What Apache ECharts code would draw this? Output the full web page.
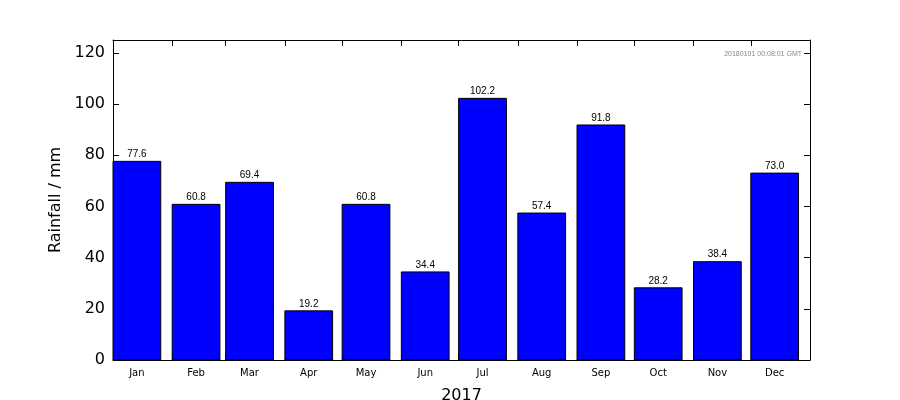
<!DOCTYPE html>
<html><head><meta charset="utf-8">
<script src="https://cdn.jsdelivr.net/npm/echarts@6/dist/echarts.min.js"></script>
<style>body{margin:0}#c{width:900px;height:400px}</style></head>
<body><div id="c"></div>
<script>
var months = ['Jan','Feb','Mar','Apr','May','Jun','Jul','Aug','Sep','Oct','Nov','Dec'];
var rainfall = [77.6, 60.8, 69.4, 19.2, 60.8, 34.4, 102.2, 57.4, 91.8, 28.2, 38.4, 73.0];
var monthStart = [0, 31, 59, 90, 120, 151, 181, 212, 243, 273, 304, 334]; // day of year
var barDays = 25;

var chart = echarts.init(document.getElementById('c'));
var data = rainfall.map(function (v, i) { return [monthStart[i], v, i]; });
var mids = monthStart.map(function (d) { return d + barDays / 2; });
var tickVals = monthStart.slice(1);

function xAx(pos) {
  return {
    type: 'value', min: 0, max: 365, position: pos,
    splitLine: {show: false},
    axisLine: {show: true, onZero: false, lineStyle: {color: '#000'}},
    axisTick: {inside: true, length: 6, customValues: tickVals, lineStyle: {color: '#000'}},
    axisLabel: pos === 'bottom' ? {
      customValues: mids, fontSize: 10, color: '#000', margin: 8,
      formatter: function (v) { return months[mids.indexOf(v)]; }
    } : {show: false},
    name: pos === 'bottom' ? '2017' : '', nameLocation: 'middle', nameGap: 28,
    nameTextStyle: {fontSize: 16, color: '#000'}
  };
}
function yAx(pos) {
  return {
    type: 'value', min: 0, max: 125, interval: 20, position: pos,
    splitLine: {show: false},
    axisLine: {show: true, onZero: false, lineStyle: {color: '#000'}},
    axisTick: {inside: true, length: 6, lineStyle: {color: '#000'}},
    axisLabel: pos === 'left' ? {fontSize: 16, color: '#000', showMaxLabel: false, margin: 8} : {show: false},
    name: pos === 'left' ? 'Rainfall / mm' : '', nameLocation: 'middle', nameGap: 40,
    nameTextStyle: {fontSize: 16, color: '#000'}
  };
}

chart.setOption({
  animation: false,
  textStyle: {fontFamily: 'DejaVu Sans'},
  grid: {left: 113, right: 90, top: 40, bottom: 40, containLabel: false, outerBoundsMode: 'none'},
  xAxis: [xAx('bottom'), xAx('top')],
  yAxis: [yAx('left'), yAx('right')],
  graphic: [{type: 'text', right: 98, top: 51,
    style: {text: '20180101 00:08:01 GMT', fontSize: 7, fill: '#888'}}],
  series: [{
    type: 'custom', xAxisIndex: 0, yAxisIndex: 0, data: data,
    renderItem: function (params, api) {
      var x = api.value(0), v = api.value(1);
      var p0 = api.coord([x, 0]), p1 = api.coord([x + barDays, v]);
      return {type: 'group', children: [
        {type: 'rect', shape: {x: p0[0], y: p1[1], width: p1[0] - p0[0], height: p0[1] - p1[1]},
          style: {fill: '#0000ff', stroke: '#000', lineWidth: 1}},
        {type: 'text', style: {text: v.toFixed(1), x: (p0[0] + p1[0]) / 2, y: p1[1] - 2,
          align: 'center', verticalAlign: 'bottom', fontSize: 10, fill: '#000'}}
      ]};
    }
  }]
});
</script></body></html>
